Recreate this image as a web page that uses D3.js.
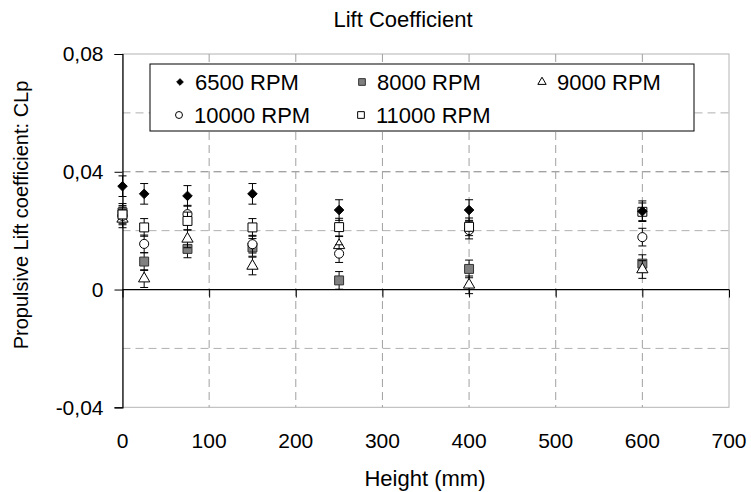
<!DOCTYPE html>
<html>
<head>
<meta charset="utf-8">
<script src="https://cdn.jsdelivr.net/npm/d3@7"></script>
<style>
  body { margin: 0; background: #ffffff; }
  text { font-family: Arial, 'Liberation Sans', sans-serif; fill: #000; }
</style>
</head>
<body>
<div id="chart"></div>
<script>
// chart values
const heights = [0, 25, 75, 150, 250, 400, 600];
const rpm6500  = [0.0351, 0.0325, 0.0318, 0.0325, 0.0270, 0.0270, 0.0266];
const rpm8000  = [0.0262, 0.0095, 0.0138, 0.0143, 0.0031, 0.0070, 0.0088];
const rpm9000  = [0.0240, 0.0037, 0.0172, 0.0080, 0.0150, 0.0016, 0.0068];
const rpm10000 = [0.0250, 0.0155, 0.0256, 0.0154, 0.0122, 0.0202, 0.0178];
const rpm11000 = [0.0255, 0.0211, 0.0233, 0.0211, 0.0212, 0.0213, 0.0264];
const err6500  = [0.0035, 0.0035, 0.0035, 0.0035, 0.0035, 0.0035, 0.0035];
const err8000  = [0.0030, 0.0030, 0.0030, 0.0030, 0.0030, 0.0030, 0.0030];
const err9000  = [0.0030, 0.0030, 0.0030, 0.0030, 0.0030, 0.0030, 0.0030];
const err10000 = [0.0030, 0.0030, 0.0030, 0.0030, 0.0030, 0.0030, 0.0030];
const err11000 = [0.0030, 0.0030, 0.0030, 0.0030, 0.0030, 0.0030, 0.0030];
const seriesNames = ['6500 RPM', '8000 RPM', '9000 RPM', '10000 RPM', '11000 RPM'];
const xTicks = [0, 100, 200, 300, 400, 500, 600, 700];
const yTicks = [-0.04, 0, 0.04, 0.08];
const yGrid = [-0.02, 0.02, 0.04, 0.06];

const W = 751, H = 492;
const plot = {left: 122.5, right: 729, top: 54, bottom: 407.3};

const svg = d3.select('#chart').append('svg')
    .attr('width', W)
    .attr('height', H);

const xScale = d3.scaleLinear().domain([0, 700]).range([plot.left, plot.right]),
      yScale = d3.scaleLinear().domain([-0.04, 0.08]).range([plot.bottom, plot.top]);

// Excel style labels: comma decimal, plain hyphen for negatives
const fmt = function(v) {
  return v === 0 ? '0' : d3.format('.2f')(v).replace('.', ',').replace('\u2212', '-');
};

// plot frame
svg.append('rect')
    .attr('x', plot.left).attr('y', plot.top)
    .attr('width', plot.right - plot.left)
    .attr('height', plot.bottom - plot.top)
    .attr('fill', 'none')
    .attr('stroke', '#b4b4b4')
    .attr('stroke-width', 1);

// gridlines
svg.selectAll('.hgrid')
    .data(yGrid)
  .enter().append('line')
    .attr('x1', plot.left).attr('x2', plot.right)
    .attr('y1', function(d) { return yScale(d); })
    .attr('y2', function(d) { return yScale(d); })
    .attr('stroke', function(d) { return d === 0.04 ? '#808080' : '#b0b0b0'; })
    .attr('stroke-width', 1)
    .attr('stroke-dasharray', '8,5');

svg.selectAll('.vgrid')
    .data(xTicks.slice(1, -1))
  .enter().append('line')
    .attr('y1', plot.top).attr('y2', plot.bottom)
    .attr('x1', function(d) { return xScale(d); })
    .attr('x2', function(d) { return xScale(d); })
    .attr('stroke', '#a0a0a0')
    .attr('stroke-width', 1)
    .attr('stroke-dasharray', '8,5');

// axes
const yAxis = svg.append('g')
    .attr('transform', 'translate(' + plot.left + ',0)')
    .call(d3.axisLeft(yScale).tickValues(yTicks).tickSize(8).tickPadding(11).tickFormat(fmt));
yAxis.selectAll('text').style('font-size', '21px');

const xAxis = svg.append('g')
    .attr('transform', 'translate(0,' + yScale(0) + ')')
    .call(d3.axisBottom(xScale).tickValues(xTicks).tickSize(8));
xAxis.selectAll('text').remove();
[yAxis, xAxis].forEach(function(a) {
  a.select('.domain').attr('stroke', '#000').attr('stroke-width', 1.2);
  a.selectAll('.tick line').attr('stroke', '#000');
});
xAxis.select('.domain').attr('d', 'M' + plot.left + ',0H' + plot.right);

svg.selectAll('.xlab')
    .data(xTicks)
  .enter().append('text')
    .attr('x', function(d) { return xScale(d); })
    .attr('y', 448)
    .style('font-size', '21px')
    .style('text-anchor', 'middle')
    .text(function(d) { return d; });

// titles
svg.append('text')
    .attr('x', 403).attr('y', 27)
    .style('font-size', '22px')
    .style('text-anchor', 'middle')
    .text('Lift Coefficient');

svg.append('text')
    .attr('x', 425).attr('y', 486)
    .style('font-size', '22px')
    .style('text-anchor', 'middle')
    .text('Height (mm)');

svg.append('text')
    .attr('transform', 'translate(28,' + 215 + ') rotate(-90)')
    .style('font-size', '20px')
    .style('text-anchor', 'middle')
    .text('Propulsive Lift coefficient: CLp');

// markers
const symbols = [
  {type: d3.symbolDiamond2, fill: '#000000', stroke: '#000000', area: 58, leg: 28},
  {type: d3.symbolSquare, fill: '#808080', stroke: '#333333', area: 80, leg: 45},
  {type: d3.symbolTriangle, fill: '#ffffff', stroke: '#000000', area: 55, leg: 30},
  {type: d3.symbolCircle, fill: '#ffffff', stroke: '#000000', area: 65, leg: 38},
  {type: d3.symbolSquare, fill: '#ffffff', stroke: '#000000', area: 80, leg: 45}
];

const values = [rpm6500, rpm8000, rpm9000, rpm10000, rpm11000],
      errors = [err6500, err8000, err9000, err10000, err11000];

// the 6500 RPM diamonds sit on top of the other series
[1, 2, 3, 4, 0].forEach(function(s) {
  const vals = values[s];
  const data = heights.map(function(h, i) { return {x: h, y: vals[i], e: errors[s][i]}; });
  const g = svg.append('g');

  const bars = g.selectAll('.err')
      .data(data)
    .enter().append('g');
  bars.append('line')
      .attr('x1', function(d) { return xScale(d.x); })
      .attr('x2', function(d) { return xScale(d.x); })
      .attr('y1', function(d) { return yScale(d.y + d.e); })
      .attr('y2', function(d) { return yScale(d.y - d.e); })
      .attr('stroke', '#000').attr('stroke-width', 1);
  [1, -1].forEach(function(sign) {
    bars.append('line')
        .attr('x1', function(d) { return xScale(d.x) - 4; })
        .attr('x2', function(d) { return xScale(d.x) + 4; })
        .attr('y1', function(d) { return yScale(d.y + sign * d.e); })
        .attr('y2', function(d) { return yScale(d.y + sign * d.e); })
        .attr('stroke', '#000').attr('stroke-width', 1);
  });

  g.selectAll('.pt')
      .data(data)
    .enter().append('path')
      .attr('transform', function(d) { return 'translate(' + xScale(d.x) + ',' + yScale(d.y) + ')'; })
      .attr('d', d3.symbol().type(symbols[s].type).size(symbols[s].area))
      .attr('fill', symbols[s].fill)
      .attr('stroke', symbols[s].stroke)
      .attr('stroke-width', 1);
});

// legend
const legend = svg.append('g');
legend.append('rect')
    .attr('x', 150).attr('y', 64)
    .attr('width', 544).attr('height', 67)
    .attr('fill', '#ffffff')
    .attr('stroke', '#000')
    .attr('stroke-width', 1);

const legPos = [[180, 82], [362, 82], [542, 82], [179, 115], [361, 115]];
seriesNames.forEach(function(name, s) {
  legend.append('path')
      .attr('transform', 'translate(' + legPos[s][0] + ',' + legPos[s][1] + ')')
      .attr('d', d3.symbol().type(symbols[s].type).size(symbols[s].leg))
      .attr('fill', symbols[s].fill)
      .attr('stroke', symbols[s].stroke)
      .attr('stroke-width', 1);
  legend.append('text')
      .attr('x', legPos[s][0] + 15)
      .attr('y', legPos[s][1] + 7.5)
      .style('font-size', '22px')
      .text(name);
});
</script>
</body>
</html>
